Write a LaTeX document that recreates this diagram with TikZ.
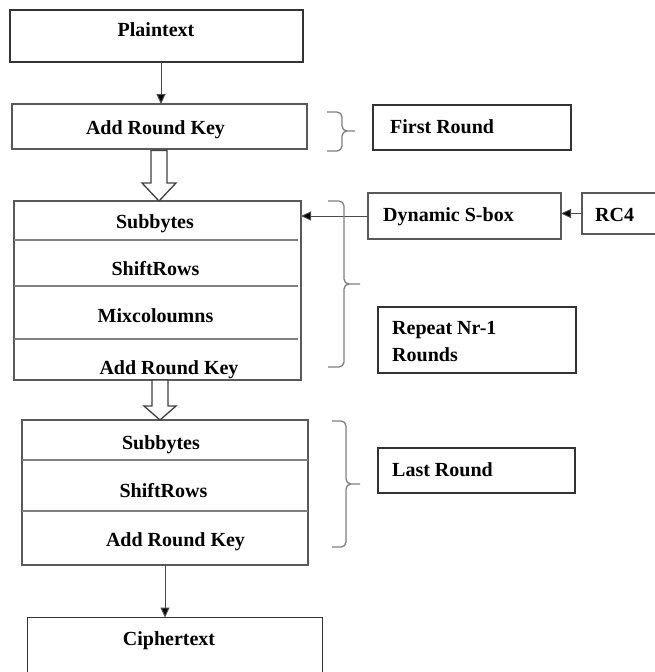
\documentclass[tikz,border=0pt]{standalone}
\usepackage{fontspec}
\setmainfont{Liberation Serif}
\usetikzlibrary{arrows.meta}

\begin{document}
\begin{tikzpicture}[x=1pt, y=-1pt,
    box/.style={draw=black!80, line width=1.6pt, inner sep=0pt, outer sep=0pt},
    lbox/.style={draw=black!65, line width=1.4pt, inner sep=0pt, outer sep=0pt},
    txt/.style={font=\fontsize{20}{27}\selectfont\bfseries, text=black, inner sep=0pt, anchor=base},
    sep/.style={draw=black!50, line width=1.2pt},
    arr/.style={draw=black!70, line width=1pt, -{Triangle[length=10pt, width=9pt, fill=black]}},
    hollow/.style={draw=black!75, line width=1.3pt, fill=white, line join=miter},
    curly/.style={draw=black!50, line width=1.3pt, rounded corners=5pt}]
  \clip (0,0) rectangle (655,672);
  \fill[white] (0,0) rectangle (655,672);

  % main column
  \node[box, minimum width=293pt, minimum height=52pt] (plain) at (156.5,36) {};
  \node[txt] (plaintxt) at (156,36.5) {Plaintext};
  \node[lbox, minimum width=295pt, minimum height=45pt] (ark1) at (159.5,126.5) {};
  \node[txt] (ark1txt) at (155.5,134.5) {Add Round Key};

  \node[lbox, minimum width=287pt, minimum height=179pt] (rnd) at (157.5,290.5) {};
  \draw[sep] (rnd.west |- 0,240) -- (298,240);
  \draw[sep] (rnd.west |- 0,286) -- (298,286);
  \draw[sep] (rnd.west |- 0,339) -- (298,339);
  \node[txt] (sub1) at (155,228.5) {Subbytes};
  \node[txt] (shift1) at (155.5,275.5) {ShiftRows};
  \node[txt] (mix1) at (155.5,322.5) {Mixcoloumns};
  \node[txt] (ark2) at (169,374.5) {Add Round Key};

  \node[lbox, minimum width=286pt, minimum height=145pt] (last) at (165,492.5) {};
  \draw[sep] (last.west |- 0,460) -- (last.east |- 0,460);
  \draw[sep] (last.west |- 0,511) -- (last.east |- 0,511);
  \node[txt] (sub2) at (161,449.5) {Subbytes};
  \node[txt] (shift2) at (163.5,497.5) {ShiftRows};
  \node[txt] (ark3) at (175.5,546.5) {Add Round Key};

  \node[box, minimum width=295pt, minimum height=83pt] (ciph) at (175,659) {};
  \node[txt] (ciphtxt) at (169,645.5) {Ciphertext};

  % right column
  \node[box, minimum width=198pt, minimum height=45pt] (first) at (472,127.5) {};
  \node[txt, anchor=base west] (firsttxt) at (390,133.5) {First Round};
  \node[lbox, minimum width=193pt, minimum height=46pt] (sbox) at (464.5,216) {};
  \node[txt, anchor=base west] (sboxtxt) at (383,221.5) {Dynamic S-box};
  \node[lbox, minimum width=98pt, minimum height=41pt] (rc4) at (631,213.5) {};
  \node[txt, anchor=base west] (rc4txt) at (595,221.5) {RC4};
  \node[box, minimum width=198pt, minimum height=66pt] (rep) at (477,340) {};
  \node[txt, anchor=base west, align=left] (reptxt) at (392,361.5) {Repeat Nr-1\\Rounds};
  \node[box, minimum width=197pt, minimum height=45pt] (lastlbl) at (476.5,470.5) {};
  \node[txt, anchor=base west] (lasttxt) at (392,476.5) {Last Round};

  % connectors
  \draw[arr] (plain.south -| 161,0) -- (ark1.north -| 161,0);
  \draw[arr] (sbox.west) -- (sbox.west -| rnd.east);
  \draw[arr] (rc4.west) -- (rc4.west -| sbox.east);
  \draw[arr] (last.south) -- (last.south |- ciph.north);
  \draw[hollow] (151,150.5) -- (167,150.5) -- (167,183) -- (176,183) -- (159,201) -- (142,183) -- (151,183) -- cycle;
  \draw[hollow] (152,380) -- (168,380) -- (168,406) -- (176,406) -- (160,420) -- (144,406) -- (152,406) -- cycle;

  % braces
  \draw[curly] (327,112) -- (342,112) -- (342,131) -- (355,131)
               (355,131) -- (342,131) -- (342,151) -- (327,151);
  \draw[curly] (328,201) -- (344,201) -- (344,284) -- (360,284)
               (360,284) -- (344,284) -- (344,367) -- (328,367);
  \draw[curly] (332,421) -- (346,421) -- (346,484) -- (360,484)
               (360,484) -- (346,484) -- (346,547) -- (332,547);
\end{tikzpicture}
\end{document}
